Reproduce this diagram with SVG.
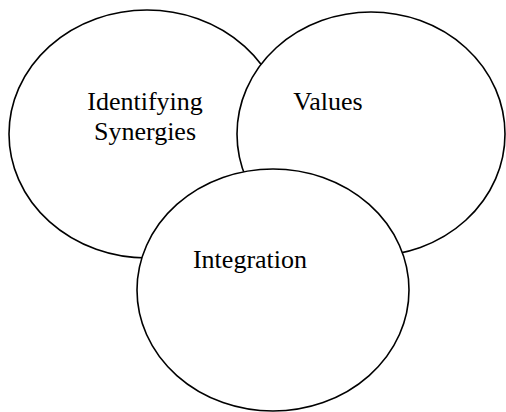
<svg xmlns="http://www.w3.org/2000/svg" width="506" height="412" viewBox="0 0 506 412">
  <style>
    .circle { fill: #ffffff; stroke: #000000; stroke-width: 1.6; }
    .label { font-family: "Liberation Serif", "Times New Roman", serif; font-size: 26px; fill: #000000; text-anchor: middle; }
  </style>
  <rect width="506" height="412" fill="#ffffff"/>
  <g id="identifying-synergies">
    <ellipse class="circle" cx="147" cy="134" rx="138" ry="124"/>
    <text class="label" x="145" y="110">Identifying</text>
    <text class="label" x="145" y="140">Synergies</text>
  </g>
  <g id="values">
    <ellipse class="circle" cx="371" cy="134" rx="134" ry="122"/>
    <text class="label" x="328" y="110">Values</text>
  </g>
  <g id="integration">
    <ellipse class="circle" cx="273" cy="290" rx="136" ry="121"/>
    <text class="label" x="250" y="268">Integration</text>
  </g>
  <g id="connectors"/>
</svg>
